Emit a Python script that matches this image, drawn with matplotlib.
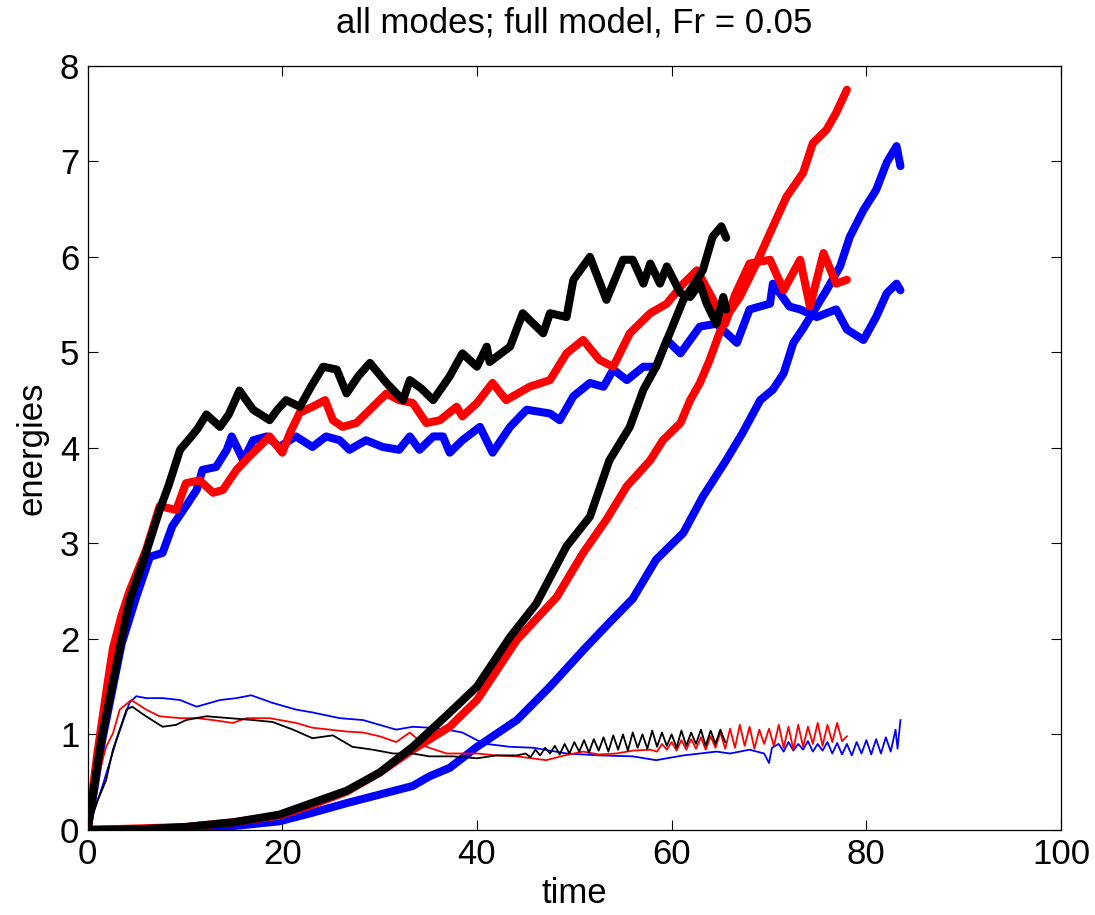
import matplotlib
matplotlib.use("Agg")
import matplotlib.pyplot as plt

plt.rcParams['font.family'] = ['Liberation Sans', 'DejaVu Sans']

# thick, saturating energies (t, E)
t_black_sat = [0, 1.4, 2.5, 3.5, 4.3, 6.0, 7.4, 8.3, 9.5, 10.5, 11.3, 12.2, 13.6, 14.5, 15.6, 17, 18.7,
               19.5, 20.4, 21.8, 23, 24.2, 25.6, 26.6, 27.8, 29, 30.7, 32.4, 33.1, 34.3, 35.5, 37.2,
               38.5, 40, 41, 41.3, 43.4, 44.7, 46.8, 47.5, 49.2, 49.9, 51.6, 53.3, 55, 56, 57.1, 57.8,
               58.8, 59.5, 60.9, 61.9, 62.9, 63.6, 64.6, 65.3, 65.6]
e_black_sat = [0, 0.94, 1.5, 2.0, 2.4, 2.9, 3.35, 3.6, 3.98, 4.1, 4.2, 4.35, 4.22, 4.35, 4.6, 4.4, 4.29,
               4.4, 4.5, 4.43, 4.65, 4.85, 4.82, 4.57, 4.75, 4.89, 4.68, 4.5, 4.71, 4.62, 4.5, 4.75,
               4.99, 4.85, 5.06, 4.9, 5.06, 5.41, 5.2, 5.41, 5.37, 5.76, 6.0, 5.55, 5.97, 5.97, 5.72, 5.93,
               5.72, 5.9, 5.62, 5.58, 5.72, 5.51, 5.3, 5.58, 5.45]

t_red_sat = [0, 1, 2, 2.6, 3.5, 4.3, 6.0, 7.4, 9.1, 10.1, 11.5, 12.9, 13.9, 15.3, 16.6, 18.7, 20, 20.8,
             21.8, 23.1, 24.4, 25.2, 26.2, 27.6, 29.3, 30.7, 32, 33.4, 34.8, 36.2, 37.9, 38.5, 40,
             41.6, 43, 45.4, 47.5, 49.2, 50.9, 52.6, 54, 55.7, 57.8, 59.5, 61.2, 62.6, 64, 65.5, 66.5,
             68, 70.1, 71.5, 73.2, 74.2, 75.6, 76.9, 78]
e_red_sat = [0, 0.8, 1.5, 1.9, 2.25, 2.5, 2.93, 3.39, 3.35, 3.63, 3.66, 3.53, 3.56, 3.77, 3.91, 4.12, 3.95, 4.16,
             4.37, 4.43, 4.5, 4.29, 4.22, 4.26, 4.43, 4.57, 4.5, 4.47, 4.26, 4.29, 4.43, 4.33, 4.47,
             4.68, 4.5, 4.64, 4.71, 4.99, 5.13, 4.92, 4.85, 5.2, 5.41, 5.51, 5.72, 5.86, 5.6, 5.3, 5.6,
             5.93, 5.97, 5.65, 5.97, 5.48, 6.04, 5.72, 5.76]

t_blue_sat = [0, 1.5, 3.5, 5, 6.4, 7.7, 8.7, 10.1, 11.2, 11.8, 13.2, 14.3, 14.8, 16, 17, 18.4, 19.7,
              21.4, 23.1, 24.5, 25.9, 26.9, 28.6, 30.3, 32, 33.1, 34.1, 35.5, 36.5, 37.2, 38.5, 40.3,
              41.6, 43.4, 45.1, 47.5, 48.5, 49.9, 51.6, 53, 54, 55.4, 57.1, 58.4, 59.5, 60.9, 62.9,
              64.6, 66.7, 68, 70.1, 70.4, 72.1, 73.2, 74.9, 76.9, 78, 79.7, 81, 82.1, 83.1, 83.5]
e_blue_sat = [0, 0.94, 1.95, 2.44, 2.86, 2.9, 3.18, 3.39, 3.56, 3.77, 3.8, 3.98, 4.12, 3.87, 4.08, 4.12, 4.01,
              4.12, 4.01, 4.12, 4.08, 3.98, 4.08, 4.01, 3.98, 4.12, 3.98, 4.12, 4.12, 3.95, 4.08, 4.22,
              3.95, 4.22, 4.4, 4.36, 4.29, 4.54, 4.68, 4.64, 4.82, 4.71, 4.85, 4.85, 5.13, 4.99, 5.27,
              5.3, 5.1, 5.45, 5.51, 5.72, 5.48, 5.45, 5.37, 5.45, 5.24, 5.13, 5.37, 5.62, 5.72, 5.65]

# thick, growing energies
t_black_grow = [0, 5, 10, 15, 19.7, 23, 26.6, 30, 33.4, 36.9, 40, 43.4, 46.1, 49.2, 51.6, 53.6, 55.7,
                57.1, 58.4, 59.8, 61.2, 61.9, 63.2, 64.2, 65.1, 65.6]
e_black_grow = [0, 0.005, 0.03, 0.08, 0.16, 0.28, 0.41, 0.6, 0.87, 1.2, 1.5, 2.02, 2.37, 2.97, 3.28, 3.87, 4.22,
                4.61, 4.85, 5.2, 5.55, 5.65, 5.86, 6.21, 6.32, 6.2]

t_red_grow = [0, 10, 15, 19.7, 23, 26.6, 30, 33.4, 37.2, 40, 40.6, 44.1, 48.2, 50.9, 53.3, 55.4, 57.8,
              59.1, 60.9, 61.9, 62.9, 63.9, 64.9, 65.6, 67, 68.7, 70.1, 71.8, 73.5, 74.5, 75.9, 76.9, 78]
e_red_grow = [0, 0.03, 0.08, 0.15, 0.26, 0.4, 0.6, 0.84, 1.08, 1.36, 1.45, 1.99, 2.44, 2.9, 3.25, 3.6, 3.87,
              4.08, 4.26, 4.5, 4.68, 4.92, 5.2, 5.37, 5.58, 5.93, 6.25, 6.63, 6.88, 7.19, 7.33, 7.51, 7.75]

t_blue_grow = [0, 10, 15, 19.7, 23.1, 26.6, 30, 33.4, 35.1, 37.2, 40, 40.6, 44.1, 47.5, 50.9, 53.6, 56,
               58.4, 61.2, 63.2, 65.6, 67.3, 69.1, 70.4, 71.5, 72.5, 73.5, 75.9, 77.3, 78.3, 79.7, 81,
               82.1, 83.1, 83.5]
e_blue_grow = [0, 0.01, 0.04, 0.09, 0.18, 0.28, 0.37, 0.46, 0.56, 0.65, 0.87, 0.91, 1.15, 1.5, 1.88, 2.17, 2.42,
               2.83, 3.11, 3.49, 3.87, 4.16, 4.5, 4.61, 4.78, 5.1, 5.25, 5.65, 5.9, 6.21, 6.49, 6.7,
               6.99, 7.16, 6.95]

# thin energies
t_black_thin = [0, 1, 1.9, 2.6, 3.3, 4, 4.6, 5, 6, 7.7, 9.1, 10.1, 12.2, 14.6, 17, 19, 21.1, 23.1, 25.2,
                27.2, 29.3, 31.4, 33.4, 35.1, 37.5, 40, 42, 44.1,
                45, 45.5, 46, 46.5, 47, 47.5, 48, 48.5, 49, 49.5, 50, 50.5, 51, 51.5, 52, 52.5, 53, 53.5,
                54, 54.5, 55, 55.5, 56, 56.5, 57, 57.5, 58, 58.5, 59, 59.5, 60, 60.5, 61, 61.5, 62, 62.5,
                63, 63.5, 64, 64.5, 65, 65.5]
e_black_thin = [0, 0.3, 0.52, 0.84, 1.05, 1.26, 1.29, 1.26, 1.19, 1.08, 1.1, 1.15, 1.19, 1.17, 1.15, 1.13, 1.05,
                0.96, 0.99, 0.87, 0.84, 0.8, 0.8, 0.77, 0.77, 0.75, 0.78, 0.78,
                0.8, 0.76, 0.84, 0.78, 0.86, 0.8, 0.88, 0.79, 0.9, 0.8, 0.92, 0.82, 0.94, 0.81, 0.95, 0.83,
                0.97, 0.82, 0.99, 0.84, 1.0, 0.83, 1.02, 0.86, 1.0, 0.85, 1.04, 0.87, 1.02, 0.88, 1.0, 0.86,
                1.04, 0.88, 1.02, 0.9, 1.05, 0.88, 1.04, 0.9, 1.05, 0.92]

t_red_thin = [0, 0.5, 1.2, 1.9, 2.6, 3.3, 4.5, 6, 7.4, 9.5, 11.2, 12.9, 14.9, 16.3, 18.7, 21.4, 23.1,
              26.6, 28.3, 30, 31.7, 33.1, 34.8, 36.9, 40, 42, 44.1, 47.1, 49, 50.9, 52.5, 54.3, 56, 57.8,
              58.5, 59, 59.5, 60, 60.5, 61, 61.5, 62, 62.5, 63, 63.5, 64, 64.5, 65, 65.5, 66, 66.5, 67,
              67.5, 68, 68.5, 69, 69.5, 70, 70.5, 71, 71.5, 72, 72.5, 73, 73.5, 74, 74.5, 75, 75.5, 76,
              76.5, 77, 77.5, 78]
e_red_thin = [0, 0.3, 0.6, 0.87, 1.01, 1.26, 1.36, 1.26, 1.19, 1.17, 1.17, 1.15, 1.12, 1.17, 1.17, 1.12, 1.07,
              1.03, 1.02, 0.98, 0.92, 1.02, 0.87, 0.8, 0.8, 0.78, 0.77, 0.73, 0.78, 0.82, 0.79, 0.8, 0.83, 0.84,
              0.82, 0.9, 0.84, 0.92, 0.83, 0.94, 0.84, 0.95, 0.85, 0.97, 0.84, 0.98, 0.86, 1.02, 0.85, 1.06, 0.86, 1.1,
              0.88, 1.08, 0.85, 1.05, 0.9, 1.06, 0.88, 1.1, 0.86, 1.08, 0.84, 1.1, 0.87, 1.08, 0.9, 1.12, 0.88, 1.1,
              0.92, 1.12, 0.93, 0.98]

t_blue_thin = [0, 1.5, 3, 4.3, 5, 6, 7.7, 9.5, 11.2, 13.6, 15.3, 16.8, 19, 21.4, 23.1, 25.9, 28.3, 30,
               31.7, 33.4, 35.1, 36.9, 38.5, 40, 41, 43.4, 45.8, 49.2, 52.6, 56, 58.4, 61.2, 64.6, 66, 68,
               69.5, 70, 70.3, 71, 71.5, 72, 72.5, 73, 73.5, 74, 74.5, 75, 75.5, 76, 76.5, 77, 77.5, 78,
               78.5, 79, 79.5, 80, 80.5, 81, 81.5, 82, 82.5, 83, 83.2, 83.5]
e_blue_thin = [0, 0.45, 0.95, 1.33, 1.4, 1.38, 1.38, 1.36, 1.29, 1.36, 1.38, 1.41, 1.33, 1.26, 1.23, 1.17, 1.15, 1.1,
               1.05, 1.08, 1.07, 1.05, 1.02, 0.94, 0.9, 0.87, 0.86, 0.8, 0.78, 0.77, 0.73, 0.78, 0.82, 0.8, 0.84,
               0.8, 0.7, 0.86, 0.9, 0.82, 0.92, 0.83, 0.9, 0.84, 0.93, 0.82, 0.9, 0.83, 0.92, 0.8, 0.91, 0.79, 0.9,
               0.78, 0.92, 0.8, 0.94, 0.79, 0.95, 0.8, 0.97, 0.82, 1.05, 0.85, 1.15]

fig = plt.figure(figsize=(10.95, 9.15), dpi=100)
ax = fig.add_axes([0.080, 0.093, 0.889, 0.835])

thick = 5.8
thin = 1.3
ax.plot(t_blue_sat, e_blue_sat, color='#0000ff', lw=thick, solid_capstyle='round', solid_joinstyle='round')
ax.plot(t_blue_grow, e_blue_grow, color='#0000ff', lw=thick, solid_capstyle='round', solid_joinstyle='round')
ax.plot(t_blue_thin, e_blue_thin, color='#0000ff', lw=thin)
ax.plot(t_red_sat, e_red_sat, color='#ff0000', lw=thick, solid_capstyle='round', solid_joinstyle='round')
ax.plot(t_red_grow, e_red_grow, color='#ff0000', lw=thick, solid_capstyle='round', solid_joinstyle='round')
ax.plot(t_red_thin, e_red_thin, color='#ff0000', lw=thin)
ax.plot(t_black_sat, e_black_sat, color='black', lw=thick, solid_capstyle='round', solid_joinstyle='round')
ax.plot(t_black_grow, e_black_grow, color='black', lw=thick, solid_capstyle='round', solid_joinstyle='round')
ax.plot(t_black_thin, e_black_thin, color='black', lw=thin)

ax.set_xlim(0, 100)
ax.set_ylim(0, 8)
ax.set_xticks([0, 20, 40, 60, 80, 100])
ax.set_yticks(range(9))
ax.tick_params(direction='in', length=7, width=0.8, top=True, right=True,
               labelsize=25, pad=6)
for s in ax.spines.values():
    s.set_linewidth(0.9)

ax.set_xlabel('time', fontsize=25, labelpad=4)
ax.set_ylabel('energies', fontsize=25, labelpad=8)
ax.set_title('all modes; full model, Fr = 0.05', fontsize=25, pad=24)

fig.savefig('out.png', dpi=100)
